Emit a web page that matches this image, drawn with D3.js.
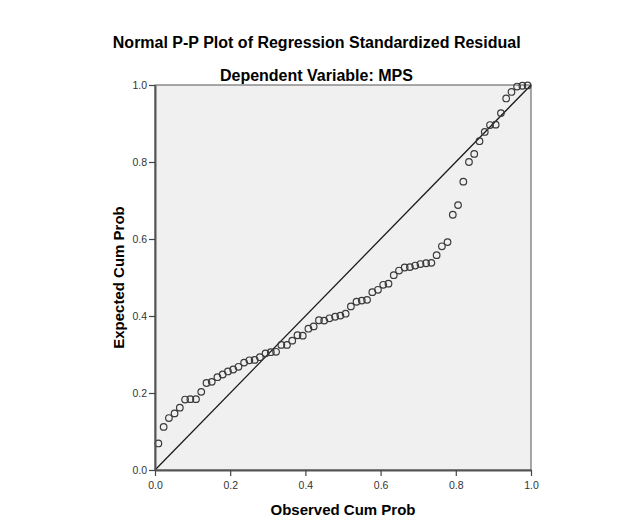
<!DOCTYPE html>
<html>
<head>
<meta charset="utf-8">
<script src="https://cdn.jsdelivr.net/npm/d3@7"></script>
<style>
  html, body { margin: 0; padding: 0; background: #ffffff; }
  svg { display: block; font-family: "Liberation Sans", Arial, sans-serif; }
</style>
</head>
<body>
<svg id="chart" width="625" height="531"></svg>
<script>
// ---- data ----
const title = "Normal P-P Plot of Regression Standardized Residual";
const subtitle = "Dependent Variable: MPS";
const xLabel = "Observed Cum Prob";
const yLabel = "Expected Cum Prob";
const xTicks = [0.0, 0.2, 0.4, 0.6, 0.8, 1.0];
const yTicks = [0.0, 0.2, 0.4, 0.6, 0.8, 1.0];

const observedCumProb = [
  0.009, 0.023, 0.037, 0.052, 0.066, 0.080, 0.094, 0.109, 0.123, 0.137,
  0.151, 0.166, 0.180, 0.194, 0.208, 0.222, 0.237, 0.251, 0.265, 0.279,
  0.294, 0.308, 0.322, 0.336, 0.351, 0.365, 0.379, 0.393, 0.408, 0.422,
  0.436, 0.450, 0.464, 0.479, 0.493, 0.507, 0.521, 0.536, 0.550, 0.564,
  0.578, 0.593, 0.607, 0.621, 0.635, 0.649, 0.664, 0.678, 0.692, 0.706,
  0.721, 0.735, 0.749, 0.763, 0.778, 0.792, 0.806, 0.820, 0.835, 0.849,
  0.863, 0.877, 0.891, 0.906, 0.920, 0.934, 0.948, 0.963, 0.977, 0.991
];
const expectedCumProb = [
  0.069, 0.112, 0.135, 0.147, 0.162, 0.183, 0.184, 0.184, 0.203, 0.226,
  0.229, 0.241, 0.248, 0.256, 0.261, 0.268, 0.279, 0.285, 0.286, 0.293,
  0.303, 0.306, 0.307, 0.325, 0.325, 0.336, 0.350, 0.349, 0.367, 0.373,
  0.389, 0.388, 0.394, 0.398, 0.401, 0.406, 0.425, 0.437, 0.440, 0.442,
  0.462, 0.468, 0.481, 0.484, 0.506, 0.518, 0.526, 0.527, 0.531, 0.535,
  0.537, 0.538, 0.558, 0.581, 0.592, 0.663, 0.688, 0.749, 0.800, 0.821,
  0.854, 0.878, 0.896, 0.897, 0.927, 0.965, 0.982, 0.996, 0.998, 0.999
];
const diagonal = [0, 1];

// ---- layout ----
const plot = { left: 155, right: 531, top: 85, bottom: 470 };
const svg = d3.select("#chart");

const x = d3.scaleLinear().domain([0, 1]).range([plot.left, plot.right]);
const y = d3.scaleLinear().domain([0, 1]).range([plot.bottom, plot.top]);

// titles
svg.append("text")
  .attr("x", 316.7).attr("y", 47.5)
  .attr("text-anchor", "middle")
  .attr("font-size", 16).attr("font-weight", "bold").attr("fill", "#000")
  .text(title);
svg.append("text")
  .attr("x", 316.4).attr("y", 81)
  .attr("text-anchor", "middle")
  .attr("font-size", 16).attr("font-weight", "bold").attr("fill", "#000")
  .text(subtitle);

// plot background / frame
svg.append("rect")
  .attr("x", plot.left).attr("y", plot.top)
  .attr("width", plot.right - plot.left).attr("height", plot.bottom - plot.top)
  .attr("fill", "#f0f0f0").attr("stroke", "#555").attr("stroke-width", 1);

// diagonal reference line
svg.append("line")
  .attr("x1", x(diagonal[0])).attr("y1", y(diagonal[0]))
  .attr("x2", x(diagonal[1])).attr("y2", y(diagonal[1]))
  .attr("stroke", "#1a1a1a").attr("stroke-width", 1.3);

// points
const pts = observedCumProb.map((v, i) => ({ x: v, y: expectedCumProb[i] }));
svg.append("g").selectAll("circle").data(pts).enter().append("circle")
  .attr("cx", d => x(d.x)).attr("cy", d => y(d.y)).attr("r", 3.3)
  .attr("fill", "none").attr("stroke", "#3a3a3a").attr("stroke-width", 1.2);

// axes
const fmt = d3.format(".1f");
const xAxis = svg.append("g")
  .attr("transform", `translate(0,${plot.bottom})`)
  .call(d3.axisBottom(x).tickValues(xTicks).tickFormat(fmt).tickSize(6).tickSizeOuter(0));
const yAxis = svg.append("g")
  .attr("transform", `translate(${plot.left},0)`)
  .call(d3.axisLeft(y).tickValues(yTicks).tickFormat(fmt).tickSize(6).tickSizeOuter(0));

[xAxis, yAxis].forEach(g => {
  g.select(".domain").attr("stroke", "#555").attr("stroke-width", 2);
  g.selectAll(".tick line").attr("stroke", "#444").attr("stroke-width", 1.2);
  g.selectAll(".tick text")
    .attr("fill", "#333")
    .attr("font-size", 10.5)
    .attr("font-family", "'Liberation Sans', Arial, sans-serif");
});
xAxis.selectAll(".tick text").attr("y", 12);
yAxis.selectAll(".tick text").attr("x", -8);

// axis titles
svg.append("text")
  .attr("x", (plot.left + plot.right) / 2).attr("y", 515)
  .attr("text-anchor", "middle")
  .attr("font-size", 15).attr("font-weight", "bold").attr("fill", "#000")
  .text(xLabel);
svg.append("text")
  .attr("transform", `translate(124,${(plot.top + plot.bottom) / 2}) rotate(-90)`)
  .attr("text-anchor", "middle")
  .attr("font-size", 15).attr("font-weight", "bold").attr("fill", "#000")
  .text(yLabel);
</script>
</body>
</html>
